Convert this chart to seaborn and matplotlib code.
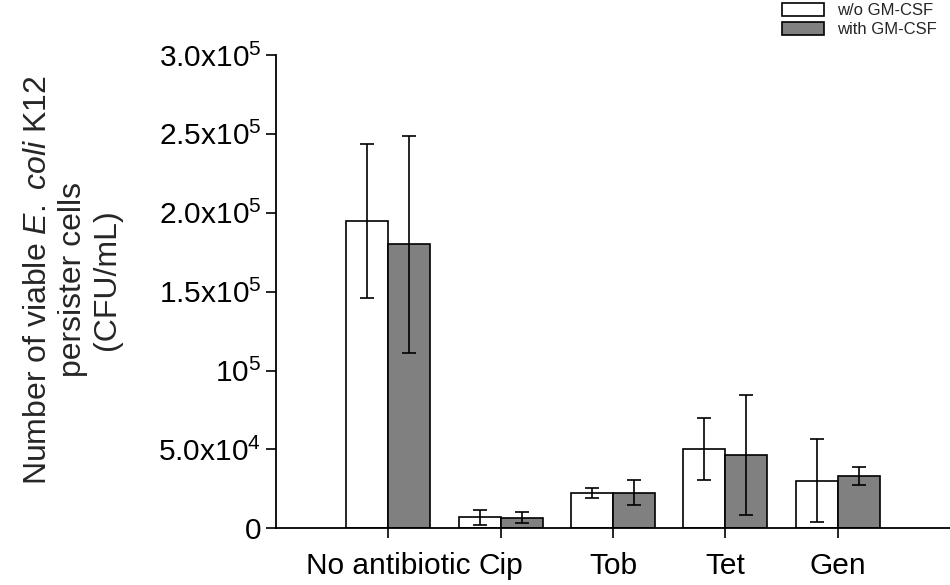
import pandas as pd
import matplotlib
matplotlib.use("Agg")
import matplotlib.pyplot as plt
import seaborn as sns
import numpy as np

# values (CFU/mL)
antibiotics = ["No antibiotic", "Cip", "Tob", "Tet", "Gen"]
groups = ["w/o GM-CSF", "with GM-CSF"]
mean_without = [195000, 7000, 22200, 50100, 30200]
err_without = [48800, 4700, 3300, 19800, 26400]
mean_with = [180000, 6600, 22600, 46500, 33200]
err_with = [68800, 3500, 7900, 38000, 5800]
yticks = [0, 50000, 100000, 150000, 200000, 250000, 300000]
ytick_labels = ["0", r"5.0x10$^4$", r"10$^5$", r"1.5x10$^5$",
                r"2.0x10$^5$", r"2.5x10$^5$", r"3.0x10$^5$"]

df = pd.DataFrame({
    "antibiotic": antibiotics * 2,
    "group": [groups[0]] * 5 + [groups[1]] * 5,
    "cfu": mean_without + mean_with,
    "err": err_without + err_with,
})

sns.set_theme(style="ticks")
plt.rcParams["font.family"] = ["Liberation Sans", "DejaVu Sans"]
plt.rcParams["mathtext.fontset"] = "custom"
plt.rcParams["mathtext.rm"] = "Liberation Sans"
plt.rcParams["mathtext.it"] = "Liberation Sans:italic"

fig = plt.figure(figsize=(9.5, 5.85), dpi=100)
ax = fig.add_axes([0.2905, 0.097, 0.7095, 0.809])

sns.barplot(data=df, x="antibiotic", y="cfu", hue="group", order=antibiotics,
            hue_order=groups, palette={groups[0]: "white", groups[1]: "#808080"},
            edgecolor="black", linewidth=1.2, width=0.75, errorbar=None,
            saturation=1, ax=ax)

# error bars on the bar centres
for cont, errs in zip(ax.containers, [err_without, err_with]):
    xs = [p.get_x() + p.get_width() / 2 for p in cont.patches]
    ys = [p.get_height() for p in cont.patches]
    ax.errorbar(xs, ys, yerr=errs, fmt="none", ecolor="black", elinewidth=1.2,
                capsize=5, capthick=1.2)

ax.set_xlim(-1, 5)
ax.set_ylim(0, 300000)
ax.set_yticks(yticks)
ax.set_yticklabels(ytick_labels)
ax.tick_params(axis="both", labelsize=21.5, length=7, width=1.2, colors="black")
ax.tick_params(axis="x", pad=10)
ax.set_xlabel("")
ax.set_ylabel("Number of viable $\\mathit{E.}$ $\\mathit{coli}$ K12\npersister cells\n(CFU/mL)",
              fontsize=23, linespacing=1.2)
ax.yaxis.set_label_coords(-0.228, 0.525)
for s in ["top", "right"]:
    ax.spines[s].set_visible(False)
for s in ["left", "bottom"]:
    ax.spines[s].set_linewidth(1.3)
    ax.spines[s].set_color("black")

handles, labels = ax.get_legend_handles_labels()
ax.get_legend().remove()
fig.legend(handles, labels, loc="upper right", bbox_to_anchor=(0.997, 1.012),
           frameon=False, fontsize=12, handlelength=2.5, handleheight=0.85,
           handletextpad=0.8, labelspacing=0.2, borderaxespad=0.2)

fig.savefig("out.png", dpi=100)
